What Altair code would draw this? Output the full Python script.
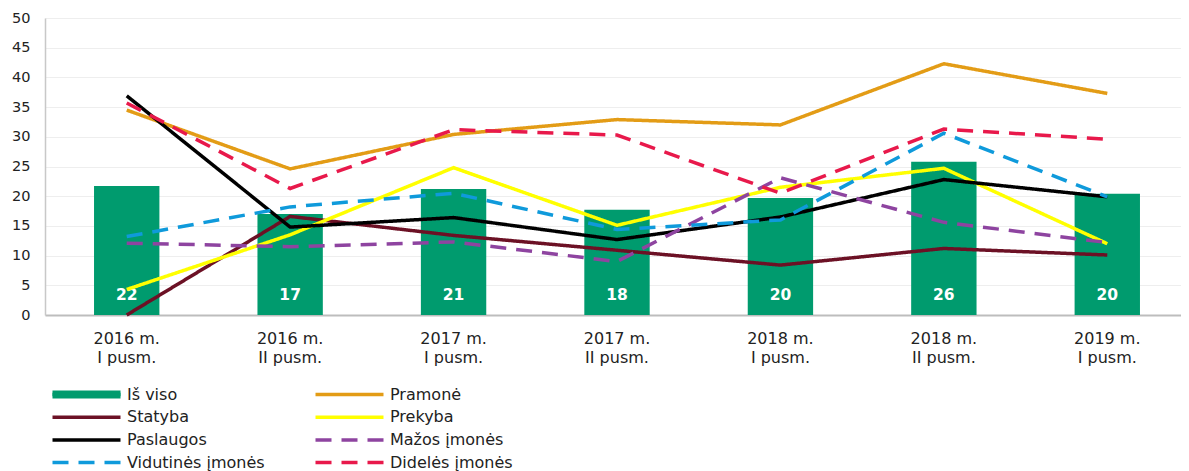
import altair as alt
import pandas as pd

categories = ["2016 m. I pusm.", "2016 m. II pusm.", "2017 m. I pusm.", "2017 m. II pusm.",
              "2018 m. I pusm.", "2018 m. II pusm.", "2019 m. I pusm."]
is_viso = [21.7, 17.0, 21.2, 17.7, 19.7, 25.8, 20.4]
pramone = [34.5, 24.6, 30.4, 32.9, 32.0, 42.3, 37.3]
statyba = [0.0, 16.6, 13.4, 10.9, 8.4, 11.2, 10.1]
prekyba = [4.3, 13.5, 24.8, 15.1, 21.5, 24.7, 12.0]
paslaugos = [36.9, 14.8, 16.4, 12.7, 16.5, 22.8, 19.9]
mazos = [12.1, 11.5, 12.3, 9.0, 23.1, 15.6, 12.2]
vidutines = [13.2, 18.2, 20.5, 14.4, 16.0, 30.6, 19.9]
dideles = [35.7, 21.3, 31.2, 30.3, 20.5, 31.3, 29.6]

line_names = ["Pramonė", "Statyba", "Prekyba", "Paslaugos",
              "Mažos įmonės", "Vidutinės įmonės", "Didelės įmonės"]
line_values = [pramone, statyba, prekyba, paslaugos, mazos, vidutines, dideles]

# legend order (column-major: left column first, then right column)
legend_names = ["Iš viso", "Statyba", "Paslaugos", "Vidutinės įmonės",
                "Pramonė", "Prekyba", "Mažos įmonės", "Didelės įmonės"]
legend_colors = ["#009B6E", "#6C1125", "#000000", "#0F9ADB",
                 "#E39C16", "#FFFF00", "#8E44A0", "#E8194B"]
legend_dash = [[1, 0], [1, 0], [1, 0], [16, 10], [1, 0], [1, 0], [16, 10], [16, 10]]
bar_color = "#009B6E"

bar_df = pd.DataFrame({"cat": categories, "value": is_viso, "kind": "Iš viso"})
rows = []
for name, vals in zip(line_names, line_values):
    for c, v in zip(categories, vals):
        rows.append({"cat": c, "series": name, "value": v})
line_df = pd.DataFrame(rows)

FONT = "DejaVu Sans"
LEG_X, LEG_Y, LEG_OFF = 33.5, 368.5, 32.5
PLOT_W, BAND_SPAN = 1136, 1144

x_axis = alt.Axis(labelAngle=0, labelExpr="[substring(datum.value,0,7), substring(datum.value,8)]",
                  labelFontSize=16, labelFont=FONT, labelColor="#222222",
                  labelLineHeight=19, labelPadding=15, ticks=False,
                  domainColor="#BDBDBD", domainWidth=2, grid=False, title=None)
y_axis = alt.Axis(values=list(range(0, 51, 5)), labelFontSize=14.5, labelFont=FONT,
                  labelColor="#222222", ticks=False, labelPadding=15, labelOverlap=False,
                  domainColor="#C8C8C8", domainWidth=1.5, title=None,
                  gridColor="#EEEEEE", gridWidth=1)
x_scale = alt.Scale(paddingInner=0, paddingOuter=0, range=[0, BAND_SPAN])
y_scale = alt.Scale(domain=[0, 50], nice=False)

bars = alt.Chart(bar_df).mark_bar(width=alt.RelativeBandSize(0.4)).encode(
    x=alt.X("cat:N", sort=categories, scale=x_scale, axis=x_axis),
    y=alt.Y("value:Q", scale=y_scale, axis=y_axis),
    fill=alt.Fill("kind:N", scale=alt.Scale(domain=["Iš viso"], range=[bar_color]),
                  legend=alt.Legend(title=None, orient="none", legendX=LEG_X, legendY=LEG_Y,
                                    symbolType="M-13.6,-1.6H13.6V1.6H-13.6Z", symbolSize=25,
                                    symbolStrokeWidth=0, symbolOpacity=1,
                                    labelFontSize=16, labelFont=FONT, labelColor="#222222",
                                    labelOpacity=0, labelOffset=LEG_OFF, labelLimit=300)),
)

labels = alt.Chart(bar_df).mark_text(color="white", fontWeight="bold", fontSize=15.5, font=FONT,
                                     dy=-20, baseline="middle").encode(
    x=alt.X("cat:N", sort=categories, scale=x_scale, axis=x_axis),
    y=alt.Y("zero:Q", scale=y_scale, axis=y_axis),
    text=alt.Text("value:Q", format=".0f"),
).transform_calculate(zero="0")

lines = alt.Chart(line_df).mark_line(strokeCap="butt", strokeJoin="miter", strokeWidth=3.5).encode(
    x=alt.X("cat:N", sort=categories, scale=x_scale, axis=x_axis),
    y=alt.Y("value:Q", scale=y_scale, axis=y_axis),
    color=alt.Color("series:N", scale=alt.Scale(domain=legend_names, range=legend_colors),
                    legend=alt.Legend(title=None, orient="none", legendX=LEG_X, legendY=LEG_Y,
                                      columns=2, columnPadding=43, rowPadding=6.7,
                                      symbolType="M-13.6,0H13.6", symbolSize=25,
                                      symbolStrokeWidth=3.5,
                                      labelFontSize=16, labelFont=FONT, labelColor="#222222",
                                      labelOffset=LEG_OFF, labelLimit=300)),
    strokeDash=alt.StrokeDash("series:N", scale=alt.Scale(domain=legend_names, range=legend_dash),
                              legend=alt.Legend(title=None)),
)

chart = alt.layer(bars, labels, lines).properties(
    width=PLOT_W, height=297,
    autosize=alt.AutoSizeParams(type="none"),
    padding={"left": 37, "top": 10, "right": 0, "bottom": 165},
).configure_view(stroke=None)

chart.save("out.html", embed_options={"renderer": "svg", "actions": False})
